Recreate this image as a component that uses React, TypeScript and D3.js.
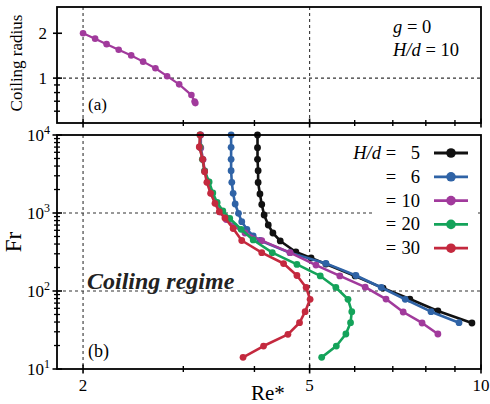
import * as d3 from "d3";

const W = 490;
const H = 404;

// panel (a): coiling radius vs Re*, g = 0, H/d = 10
const radiusRe = [2.0, 2.1, 2.2, 2.31, 2.43, 2.55, 2.68, 2.81, 2.95, 3.1, 3.14, 3.15];
const radiusVal = [2.0, 1.84, 1.69, 1.55, 1.42, 1.29, 1.165, 1.03, 0.908, 0.77, 0.697, 0.68];

// panel (b): Fr vs Re* for each H/d
const labels = ["5", "6", "10", "20", "30"];
const colors = ["#111111", "#2f63a6", "#a13a9c", "#14a35a", "#c4293e"];

const re5 = [4.05, 4.05, 4.05, 4.06, 4.06, 4.09, 4.12, 4.16, 4.23, 4.31, 4.44, 4.73, 5.03, 5.34, 6.01, 6.73, 7.5, 8.4, 9.64];
const fr5 = [10000, 6875, 4880, 3485, 2460, 1753, 1285, 942, 702, 554, 438, 316, 265, 222, 156, 109, 78.9, 55.4, 38.9];

const re6 = [3.64, 3.64, 3.64, 3.64, 3.65, 3.67, 3.7, 3.75, 3.8, 3.88, 3.98, 4.09, 4.62, 5.34, 6.03, 6.68, 7.36, 8.17, 9.15];
const fr6 = [10000, 6955, 4877, 3485, 2475, 1789, 1304, 991, 773, 618, 507, 444, 310, 226, 158, 111, 78.3, 54.3, 39.2];

const re10 = [3.22, 3.22, 3.25, 3.27, 3.32, 3.36, 3.42, 3.48, 3.57, 3.68, 3.85, 4.12, 4.62, 5.13, 5.65, 6.26, 6.81, 7.3, 7.88, 8.4];
const fr10 = [10000, 6810, 4848, 3455, 2496, 1805, 1345, 1030, 826, 681, 554, 442, 310, 215, 156, 112, 78.9, 53.8, 38.9, 28.1];

const re20 = [3.21, 3.21, 3.24, 3.27, 3.33, 3.38, 3.44, 3.52, 3.62, 3.79, 3.98, 4.3, 4.75, 5.22, 5.56, 5.84, 5.93, 5.9, 5.79, 5.57, 5.25];
const fr20 = [10000, 7015, 4877, 3455, 2496, 1805, 1364, 1061, 850, 618, 451, 310, 219, 156, 111, 78.3, 54.3, 39.2, 28.1, 19.7, 14.1];

const re30 = [3.21, 3.2, 3.245, 3.27, 3.3, 3.35, 3.41, 3.47, 3.55, 3.67, 3.8, 4.12, 4.5, 4.75, 4.93, 5.01, 4.91, 4.8, 4.58, 4.15, 3.82];
const fr30 = [10000, 7015, 4877, 3383, 2475, 1789, 1332, 1040, 863, 633, 444, 310, 225, 158, 111, 78.3, 54.3, 39.2, 27.8, 19.7, 14.1];

const seriesRe = [re5, re6, re10, re20, re30];
const seriesFr = [fr5, fr6, fr10, fr20, fr30];

const xMajor = [2, 5, 10];
const xMinor = [3, 4, 6, 7, 8, 9];
const topMajor = [1, 2];
const topMinor = [0.6, 0.7, 0.8, 0.9];
const frDecades = [1, 2, 3, 4];

const font = "'Liberation Serif', 'Times New Roman', serif";

export default function App() {
  const x = d3.scaleLog().domain([1.8, 10]).range([57, 481]);
  const yA = d3.scaleLog().domain([0.5, 3]).range([123, 7]);
  const yB = d3.scaleLog().domain([10, 10000]).range([369, 135]);

  const xL = x.range()[0];
  const xR = x.range()[1];

  const frMinor: number[] = [];
  [10, 100, 1000].forEach((d) => {
    for (let k = 2; k <= 9; k++) frMinor.push(d * k);
  });

  const lineA = d3
    .line<number>()
    .x((d, i) => x(radiusRe[i]))
    .y((d) => yA(d));

  const dash = "3,3";

  const xTicks = (y0: number) => (
    <g>
      {xMajor.map((t) => (
        <line key={"M" + t} x1={x(t)} x2={x(t)} y1={y0 - 4.5} y2={y0 + 4.5} stroke="#000" strokeWidth={1.6} />
      ))}
      {xMinor.map((t) => (
        <line key={"m" + t} x1={x(t)} x2={x(t)} y1={y0 - 3} y2={y0 + 3} stroke="#000" strokeWidth={1.4} />
      ))}
    </g>
  );

  return (
    <svg width={W} height={H} style={{ position: "absolute", left: 0, top: 0 }} fontFamily={font}>
      <rect width={W} height={H} fill="#fff" />

      {/* ---------- panel (a) ---------- */}
      {[2, 5].map((t) => (
        <line key={"ga" + t} x1={x(t)} x2={x(t)} y1={yA.range()[1]} y2={yA.range()[0]} stroke="#333" strokeWidth={1.1} strokeDasharray={dash} />
      ))}
      <line x1={xL} x2={xR} y1={yA(1)} y2={yA(1)} stroke="#333" strokeWidth={1.1} strokeDasharray={dash} />

      <path d={lineA(radiusVal) || ""} fill="none" stroke={colors[2]} strokeWidth={2.2} />
      {radiusVal.map((v, i) => (
        <circle key={"pa" + i} cx={x(radiusRe[i])} cy={yA(v)} r={3.3} fill={colors[2]} />
      ))}

      <rect x={xL} y={7} width={xR - xL} height={116} fill="none" stroke="#000" strokeWidth={1.8} />
      {xTicks(123)}
      {topMajor.map((t) => (
        <g key={"ta" + t}>
          <line x1={xL - 4} x2={xL + 5} y1={yA(t)} y2={yA(t)} stroke="#000" strokeWidth={1.6} />
          <text x={47} y={yA(t) + 5.5} fontSize={17} textAnchor="end">{t}</text>
        </g>
      ))}
      {topMinor.map((t) => (
        <line key={"tm" + t} x1={xL - 3} x2={xL + 3} y1={yA(t)} y2={yA(t)} stroke="#000" strokeWidth={1.4} />
      ))}

      <text transform="translate(22,63) rotate(-90)" fontSize={17} textAnchor="middle">Coiling radius</text>
      <text x={88} y={110} fontSize={17}>(a)</text>
      <text x={393} y={33} fontSize={18.5}>
        <tspan fontStyle="italic">g</tspan> = 0
      </text>
      <text x={393} y={56} fontSize={18.5}>
        <tspan fontStyle="italic">H/d</tspan> = 10
      </text>

      {/* ---------- panel (b) ---------- */}
      {[2, 5].map((t) => (
        <line key={"gb" + t} x1={x(t)} x2={x(t)} y1={yB.range()[1]} y2={yB.range()[0]} stroke="#333" strokeWidth={1.1} strokeDasharray={dash} />
      ))}
      {[100, 1000].map((t) => (
        <line key={"gh" + t} x1={xL} x2={xR} y1={yB(t)} y2={yB(t)} stroke="#333" strokeWidth={1.1} strokeDasharray={dash} />
      ))}

      {/* legend background hides the grid */}
      <rect x={372} y={140} width={106} height={118} fill="#fff" />

      {seriesFr.map((fr, s) => {
        const re = seriesRe[s];
        const line = d3
          .line<number>()
          .x((d, i) => x(re[i]))
          .y((d) => yB(d));
        return (
          <g key={"s" + s}>
            <path d={line(fr) || ""} fill="none" stroke={colors[s]} strokeWidth={2.6} strokeLinejoin="round" />
            {fr.map((v, i) => (
              <circle key={i} cx={x(re[i])} cy={yB(v)} r={3.4} fill={colors[s]} />
            ))}
          </g>
        );
      })}

      <rect x={xL} y={135} width={xR - xL} height={234} fill="none" stroke="#000" strokeWidth={1.8} />
      {xTicks(369)}
      {frDecades.map((p) => (
        <g key={"fd" + p}>
          <line x1={xL - 4.5} x2={xL + 5} y1={yB(10 ** p)} y2={yB(10 ** p)} stroke="#000" strokeWidth={1.6} />
          <text x={27} y={yB(10 ** p) + 6} fontSize={17}>
            10<tspan dy={-7} fontSize={12}>{p}</tspan>
          </text>
        </g>
      ))}
      {frMinor.map((t) => (
        <line key={"fm" + t} x1={xL - 3} x2={xL + 3} y1={yB(t)} y2={yB(t)} stroke="#000" strokeWidth={1.3} />
      ))}

      {xMajor.map((t) => (
        <text key={"xl" + t} x={x(t)} y={391} fontSize={17} textAnchor="middle">{t}</text>
      ))}

      <text transform="translate(21,242) rotate(-90)" fontSize={23} textAnchor="middle">Fr</text>
      <text x={251} y={400} fontSize={21}>Re*</text>
      <text x={88} y={357} fontSize={18}>(b)</text>
      <text x={87} y={289} fontSize={24} fontWeight="bold" fontStyle="italic" fill="#222">Coiling regime</text>

      {/* legend */}
      {labels.map((lab, s) => {
        const ly = 153 + s * 23.8;
        return (
          <g key={"lg" + s}>
            {s === 0 && (
              <text x={381} y={ly + 6} fontSize={18.5} fontStyle="italic" textAnchor="end">H/d</text>
            )}
            <text x={391} y={ly + 6} fontSize={18.5} textAnchor="middle">=</text>
            <text x={420} y={ly + 6} fontSize={18.5} textAnchor="end">{lab}</text>
            <line x1={434} x2={468} y1={ly} y2={ly} stroke={colors[s]} strokeWidth={2.8} />
            <circle cx={451} cy={ly} r={4.8} fill={colors[s]} />
          </g>
        );
      })}
    </svg>
  );
}
